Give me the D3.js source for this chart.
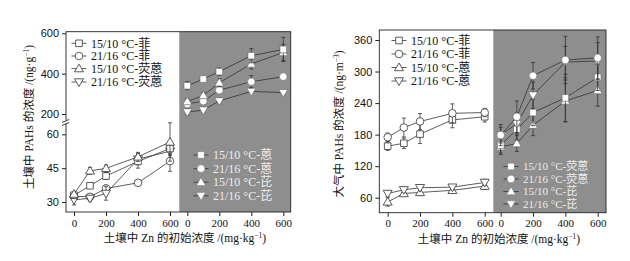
<!DOCTYPE html>
<html><head><meta charset="utf-8">
<script src="https://cdn.jsdelivr.net/npm/d3@7/dist/d3.min.js"></script>
<style>
html,body{margin:0;padding:0;background:#fff;}
svg{display:block;font-family:"Liberation Serif","Noto Sans CJK SC",serif;}
</style></head><body>
<svg id="c" width="630" height="261"></svg>
<script>
// ---------- DATA ----------
const xVals = [0, 100, 200, 400, 600];
const xTicks = [0, 200, 400, 600];

// Left chart (soil), white part (lower scale)
const soilPhe1510 = [33, 37.2, 41.5, 48, 53.7];
const soilPhe1510Err = [1, 1.2, 1.5, 3, 2.5];
const soilPhe2116 = [32.5, 32.3, 36, 38.5, 48.1];
const soilPhe2116Err = [1, 1, 1.5, 1.2, 4.5];
const soilFla1510 = [33.5, 43.8, 44.9, 50, 56.6];
const soilFla1510Err = [1, 1.5, 1.5, 2, 8.5];
const soilFla2116 = [31, 31.6, 33.8, 49, 52.5];
const soilFla2116Err = [2.3, 1.2, 3, 2.5, 2];
// Left chart, gray part (upper scale)
const soilAnt1510 = [340, 373, 410, 489, 520];
const soilAnt1510Err = [20, 10, 18, 35, 60];
const soilAnt2116 = [250, 264, 318, 360, 385];
const soilAnt2116Err = [12, 12, 15, 30, 10];
const soilPyr1510 = [262, 292, 355, 448, 505];
const soilPyr1510Err = [15, 15, 20, 25, 40];
const soilPyr2116 = [210, 219, 265, 312, 306];
const soilPyr2116Err = [15, 10, 15, 10, 10];

// Right chart (air), white part
const airPhe1510 = [158, 163.5, 181, 208, 214];
const airPhe1510Err = [8, 10, 18, 15, 10];
const airPhe2116 = [175, 193.5, 205, 220.5, 222];
const airPhe2116Err = [8, 18, 15, 18, 8];
const airAnt1510 = [52, 68, 70, 74, 82];
const airAnt1510Err = [8, 5, 6, 5, 6];
const airAnt2116 = [68, 75, 79, 80, 89];
const airAnt2116Err = [5, 5, 5, 5, 6];
// Right chart, gray part
const airFla1510 = [160, 190, 222, 250, 289];
const airFla1510Err = [15, 20, 25, 45, 25];
const airFla2116 = [179, 214, 292, 322, 326];
const airFla2116Err = [20, 30, 25, 45, 40];
const airPyr1510 = [157, 163, 198, 244, 264];
const airPyr1510Err = [15, 15, 20, 40, 30];
const airPyr2116 = [179, 201, 255, 318, 320];
const airPyr2116Err = [15, 20, 25, 30, 35];

const soilYTicksUpper = [200, 400, 600];
const soilYTicksLower = [30, 45, 60];
const airYTicks = [60, 120, 180, 240, 300, 360];

const legSoilWhite = ["15/10 °C-菲", "21/16 °C-菲", "15/10 °C-荧蒽", "21/16 °C-荧蒽"];
const legSoilGray = ["15/10 °C-蒽", "21/16 °C-蒽", "15/10 °C-芘", "21/16 °C-芘"];
const legAirWhite = ["15/10 °C-菲", "21/16 °C-菲", "15/10 °C-蒽", "21/16 °C-蒽"];
const legAirGray = ["15/10 °C-荧蒽", "21/16 °C-荧蒽", "15/10 °C-芘", "21/16 °C-芘"];
const shapes = ["square", "circle", "up", "down"];

// ---------- DRAW ----------
const svg = d3.select("#c");
const GRAY = "#8e8e8e";

function symPath(shape) {
  if (shape === "square") return "M-3.3,-3.3H3.3V3.3H-3.3Z";
  if (shape === "circle") return d3.symbol(d3.symbolCircle, 46)();
  if (shape === "up") return "M0,-4.5L4.5,3.2L-4.5,3.2Z";
  return "M0,4.5L4.5,-3.2L-4.5,-3.2Z";
}

function drawSeries(g, xs, ys, vals, errs, shape, dark) {
  g.append("path")
    .datum(vals)
    .attr("fill", "none").attr("stroke", "#333").attr("stroke-width", 0.8)
    .attr("d", d3.line().x((d, i) => xs(xVals[i])).y(d => ys(d)));
  const eb = g.append("g").attr("stroke", "#333").attr("stroke-width", 0.8);
  vals.forEach((v, i) => {
    const x = xs(xVals[i]), y1 = ys(v + errs[i]), y2 = ys(v - errs[i]);
    eb.append("line").attr("x1", x).attr("x2", x).attr("y1", y1).attr("y2", y2);
    eb.append("line").attr("x1", x - 2).attr("x2", x + 2).attr("y1", y1).attr("y2", y1);
    eb.append("line").attr("x1", x - 2).attr("x2", x + 2).attr("y1", y2).attr("y2", y2);
  });
  g.selectAll(null).data(vals).enter().append("path")
    .attr("d", symPath(shape))
    .attr("transform", (d, i) => `translate(${xs(xVals[i])},${ys(d)})`)
    .attr("fill", "#fff")
    .attr("stroke", dark ? "#666" : "#333")
    .attr("stroke-width", dark ? 0.6 : 0.8);
}

function legend(g, x0, ys, labels, dark, fs) {
  labels.forEach((t, i) => {
    const y = ys[i];
    g.append("line").attr("x1", x0 - 7.5).attr("x2", x0 + 7.5).attr("y1", y).attr("y2", y)
      .attr("stroke", "#333").attr("stroke-width", 0.8);
    g.append("path").attr("d", symPath(shapes[i])).attr("transform", `translate(${x0},${y})`)
      .attr("fill", "#fff").attr("stroke", dark ? "#777" : "#333").attr("stroke-width", dark ? 0.5 : 0.8);
    g.append("text").attr("x", x0 + 12).attr("y", y).attr("dy", "0.35em")
      .attr("font-size", fs).attr("fill", dark ? "#ececec" : "#111").text(t);
  });
}

function xAxes(g, xL, xR, bottom) {
  [xL, xR].forEach(xs => {
    const a = g.append("g").attr("transform", `translate(0,${bottom})`)
      .call(d3.axisBottom(xs).tickValues(xTicks).tickSize(4).tickPadding(3));
    a.select(".domain").remove();
    a.selectAll("text").attr("font-size", 11).attr("font-family", "Liberation Serif").attr("fill", "#111");
    a.selectAll("line").attr("stroke", "#222");
  });
}

// ===== Left chart =====
{
  const L = 66, R = 290.7, T = 31.7, B = 212, G = 179.3;
  const xL = d3.scaleLinear().domain([-50, 650]).range([66, 178]);
  const xR = d3.scaleLinear().domain([-50, 650]).range([179.3, 291.3]);
  const yU = d3.scaleLinear().domain([200, 600]).range([114, 33.3]);
  const yLo = d3.scaleLinear().domain([30, 60]).range([202, 134.3]);
  const g = svg.append("g");
  g.append("rect").attr("x", G).attr("y", T).attr("width", R - G).attr("height", B - T).attr("fill", GRAY);
  g.append("rect").attr("x", L).attr("y", T).attr("width", R - L).attr("height", B - T)
    .attr("fill", "none").attr("stroke", "#222").attr("stroke-width", 0.9);

  const aU = g.append("g").attr("transform", `translate(${L},0)`)
    .call(d3.axisLeft(yU).tickValues(soilYTicksUpper).tickSize(4).tickPadding(3));
  const aL = g.append("g").attr("transform", `translate(${L},0)`)
    .call(d3.axisLeft(yLo).tickValues(soilYTicksLower).tickSize(4).tickPadding(3));
  [aU, aL].forEach(a => {
    a.select(".domain").remove();
    a.selectAll("text").attr("font-size", 11).attr("fill", "#111");
    a.selectAll("line").attr("stroke", "#222");
  });
  // axis break
  g.append("rect").attr("x", L - 3).attr("y", 120.5).attr("width", 6).attr("height", 3.5).attr("fill", "#fff");
  g.append("line").attr("x1", L - 4).attr("x2", L + 3).attr("y1", 122.5).attr("y2", 119.5).attr("stroke", "#222").attr("stroke-width", 0.9);
  g.append("line").attr("x1", L - 4).attr("x2", L + 3).attr("y1", 125.5).attr("y2", 122.5).attr("stroke", "#222").attr("stroke-width", 0.9);

  xAxes(g, xL, xR, B);

  drawSeries(g, xL, yLo, soilPhe2116, soilPhe2116Err, "circle", false);
  drawSeries(g, xL, yLo, soilFla2116, soilFla2116Err, "down", false);
  drawSeries(g, xL, yLo, soilPhe1510, soilPhe1510Err, "square", false);
  drawSeries(g, xL, yLo, soilFla1510, soilFla1510Err, "up", false);

  drawSeries(g, xR, yU, soilPyr2116, soilPyr2116Err, "down", true);
  drawSeries(g, xR, yU, soilAnt2116, soilAnt2116Err, "circle", true);
  drawSeries(g, xR, yU, soilPyr1510, soilPyr1510Err, "up", true);
  drawSeries(g, xR, yU, soilAnt1510, soilAnt1510Err, "square", true);

  legend(g, 79, [43.3, 56, 68.6, 82], legSoilWhite, false, 12);
  legend(g, 201, [155, 168.6, 182.2, 195.8], legSoilGray, true, 12);

  const yl = g.append("text").attr("transform", "translate(33,117) rotate(-90)")
    .attr("text-anchor", "middle").attr("font-size", 11.5).attr("fill", "#111");
  yl.append("tspan").text("土壤中 PAHs 的浓度 /(ng·g");
  yl.append("tspan").attr("font-size", 7.5).attr("dy", -4).text("−1");
  yl.append("tspan").attr("dy", 4).text(")");

  const xl = g.append("text").attr("x", 185).attr("y", 242)
    .attr("text-anchor", "middle").attr("font-size", 11.5).attr("fill", "#111");
  xl.append("tspan").text("土壤中 Zn 的初始浓度 /(mg·kg");
  xl.append("tspan").attr("font-size", 7.5).attr("dy", -4).text("−1");
  xl.append("tspan").attr("dy", 4).text(")");
}

// ===== Right chart =====
{
  const L = 379.3, R = 606, T = 30, B = 212.7, G = 493.3;
  const xL = d3.scaleLinear().domain([-50, 650]).range([379.6, 492.8]);
  const xR = d3.scaleLinear().domain([-50, 650]).range([492.6, 605.8]);
  const y = d3.scaleLinear().domain([60, 360]).range([197.7, 40]);
  const g = svg.append("g");
  g.append("rect").attr("x", G).attr("y", T).attr("width", R - G).attr("height", B - T).attr("fill", GRAY);
  g.append("rect").attr("x", L).attr("y", T).attr("width", R - L).attr("height", B - T)
    .attr("fill", "none").attr("stroke", "#222").attr("stroke-width", 0.9);

  const a = g.append("g").attr("transform", `translate(${L},0)`)
    .call(d3.axisLeft(y).tickValues(airYTicks).tickSize(4).tickPadding(3));
  a.select(".domain").remove();
  a.selectAll("text").attr("font-size", 11).attr("fill", "#111");
  a.selectAll("line").attr("stroke", "#222");

  xAxes(g, xL, xR, B);

  drawSeries(g, xL, y, airPhe1510, airPhe1510Err, "square", false);
  drawSeries(g, xL, y, airPhe2116, airPhe2116Err, "circle", false);
  drawSeries(g, xL, y, airAnt1510, airAnt1510Err, "up", false);
  drawSeries(g, xL, y, airAnt2116, airAnt2116Err, "down", false);

  drawSeries(g, xR, y, airPyr1510, airPyr1510Err, "up", true);
  drawSeries(g, xR, y, airFla1510, airFla1510Err, "square", true);
  drawSeries(g, xR, y, airPyr2116, airPyr2116Err, "down", true);
  drawSeries(g, xR, y, airFla2116, airFla2116Err, "circle", true);

  legend(g, 399, [40.5, 54, 67.5, 81], legAirWhite, false, 12);
  legend(g, 511, [166.5, 179, 191.5, 204], legAirGray, true, 11);

  const yl = g.append("text").attr("transform", "translate(343,124) rotate(-90)")
    .attr("text-anchor", "middle").attr("font-size", 11.5).attr("fill", "#111");
  yl.append("tspan").text("大气中 PAHs 的浓度 /(ng·m");
  yl.append("tspan").attr("font-size", 7.5).attr("dy", -4).text("−3");
  yl.append("tspan").attr("dy", 4).text(")");

  const xl = g.append("text").attr("x", 499).attr("y", 243)
    .attr("text-anchor", "middle").attr("font-size", 11.5).attr("fill", "#111");
  xl.append("tspan").text("土壤中 Zn 的初始浓度 /(mg·kg");
  xl.append("tspan").attr("font-size", 7.5).attr("dy", -4).text("−1");
  xl.append("tspan").attr("dy", 4).text(")");
}
</script>
</body></html>
